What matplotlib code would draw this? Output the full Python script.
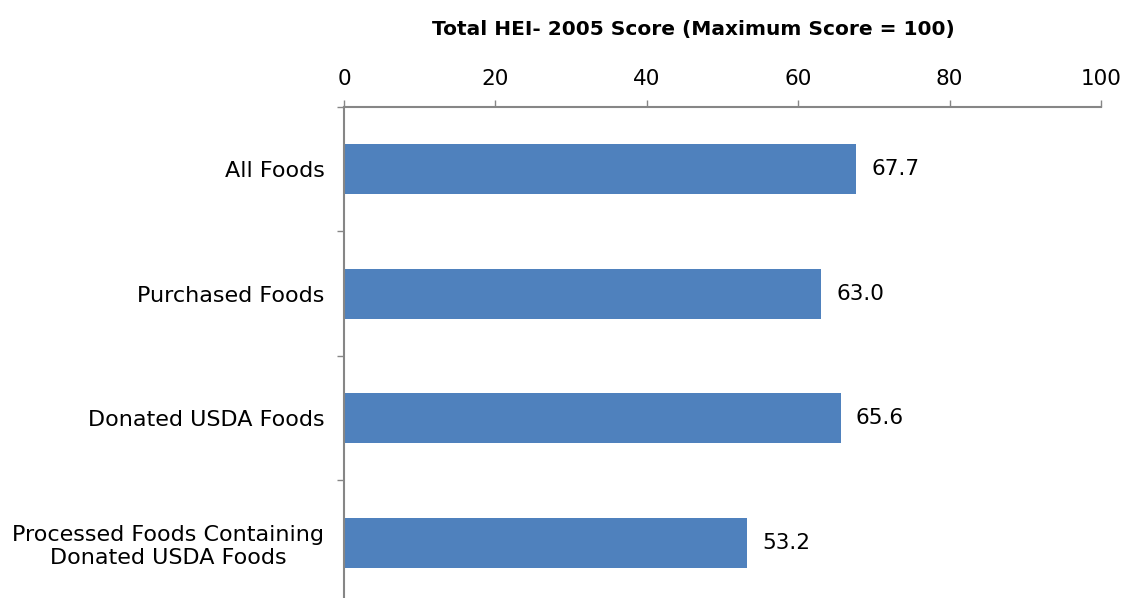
#!/usr/bin/env python3

import matplotlib
matplotlib.use('agg')

import numpy as np
import matplotlib.pyplot as plt

categories = ['All Foods', 'Purchased Foods', 'Donated USDA Foods',
			'Processed Foods Containing\nDonated USDA Foods']
scores = [67.7, 63.0, 65.6, 53.2]
x_ticks = [0, 20, 40, 60, 80, 100]

BAR_COLOR = '#4F81BD'
AXIS_COLOR = '#868686'
FS = 15.5

fig = plt.figure(figsize=(11.24, 5.98), dpi=100)
ax = fig.add_axes([0.306, -0.0117, 0.6735, 0.8328])

ypos = np.arange(len(categories))
ax.barh(ypos, scores, height=0.4, color=BAR_COLOR)

for y, v in zip(ypos, scores):
	ax.annotate('{:.1f}'.format(v), (v, y), xytext=(11, 0), textcoords='offset points',
				va='center', ha='left', fontsize=FS)

ax.set_xlim(0, 100)
ax.set_ylim(len(categories) - 0.5, -0.5)
ax.xaxis.tick_top()
ax.set_xticks(x_ticks)
ax.set_xticklabels([str(t) for t in x_ticks], fontsize=FS)
ax.tick_params(axis='x', direction='out', length=5, width=1, color=AXIS_COLOR, pad=8)

ax.set_yticks(ypos)
ax.set_yticklabels(categories, fontsize=16, multialignment='center')
ax.tick_params(axis='y', which='major', length=0, pad=14)
ax.set_yticks(np.arange(-0.5, len(categories), 1), minor=True)
ax.tick_params(axis='y', which='minor', direction='out', length=5, width=1, color=AXIS_COLOR)

for side in ['right', 'bottom']:
	ax.spines[side].set_visible(False)
for side in ['top', 'left']:
	ax.spines[side].set_color(AXIS_COLOR)
	ax.spines[side].set_linewidth(1.5)

fig.text(0.6165, 0.95, 'Total HEI- 2005 Score (Maximum Score = 100)',
		ha='center', va='center', fontsize=14.5, fontweight='bold')

fig.savefig('out.png', dpi=100)
